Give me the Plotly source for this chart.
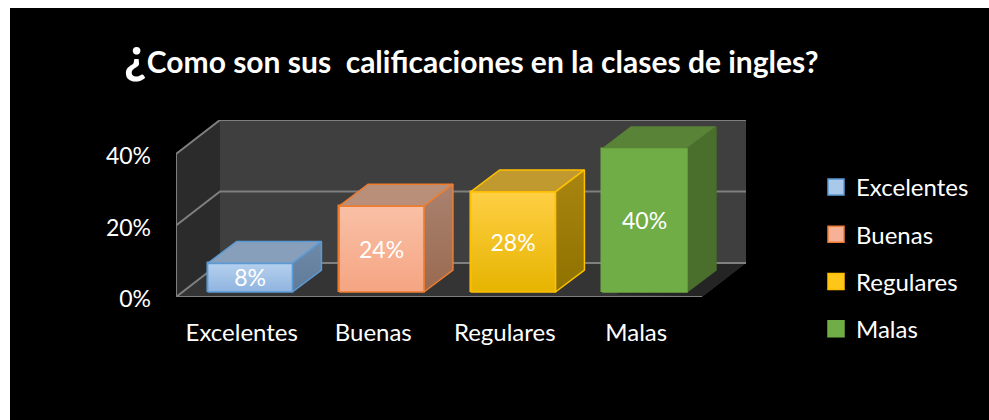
import plotly.graph_objects as go

categories = ["Excelentes", "Buenas", "Regulares", "Malas"]
values = [8, 24, 28, 40]
y_ticks = [0, 20, 40]

border_colors = ["#5b9bd5", "#ed7d31", "#ffc000", "#70ad47"]
front_top = ["#b5d0ee", "#f9c0a6", "#ffcf45", "#70ad47"]
front_bottom = ["#8fb4e0", "#f5a582", "#e6b400", "#70ad47"]
top_colors = ["#879fba", "#b98f79", "#c09a2e", "#598336"]
top_edges = ["#5b9bd5", "#ed7d31", "#ffc000", "#598336"]
side_top = ["#6f8aa8", "#a98270", "#a98510", "#4a6f2d"]
side_bottom = ["#5f7b99", "#9a6a50", "#8f7200", "#4a6f2d"]
side_edges = ["#5b9bd5", "#ed7d31", "#ffc000", "#4a6f2d"]
legend_colors = ["#a9c8ea", "#f6b196", "#ffc61a", "#70ad47"]

# the fake 3d is worked out in axis units: one category = 131.5px, 1% = 3.575px
WALL_DX, WALL_DY = 0.3346, 9.51
BAR_DX, BAR_DY = 0.2205, 6.15
BAR_SHIFT, BAR_W, BAR_BASE = 0.063, 0.645, 1.4
LABEL_DROP = 0.8
X0, X1 = -0.5, 3.5
LABEL_FONT = dict(family="Lato", color="white", size=24)
NUMBER_FONT = dict(family="Lato", color="white", size=23)

# plot area in page pixels
L, R, T, B = 176, 746, 120, 297


def page_x(px):
    return (px - L) / (R - L)


def page_y(px):
    return (B - px) / (B - T)


def poly(xs, ys):
    return "M" + " L".join(f"{x},{y}" for x, y in zip(xs, ys)) + " Z"


fig = go.Figure()

# black panel, the page stays white along the top and left edge
fig.add_shape(type="rect", xref="paper", yref="paper",
              x0=page_x(10), x1=page_x(989), y0=page_y(420), y1=page_y(8),
              fillcolor="black", line_width=0, layer="below")
shapes = [
    # back wall
    dict(path=poly([X0 + WALL_DX, X1 + WALL_DX, X1 + WALL_DX, X0 + WALL_DX],
                   [WALL_DY, WALL_DY, 40 + WALL_DY, 40 + WALL_DY]), fillcolor="#3f3f3f"),
    # left wall
    dict(path=poly([X0, X0 + WALL_DX, X0 + WALL_DX, X0],
                   [0, WALL_DY, 40 + WALL_DY, 40]), fillcolor="#2b2b2b"),
    # floor
    dict(path=poly([X0, X1, X1 + WALL_DX, X0 + WALL_DX],
                   [0, 0, WALL_DY, WALL_DY]), fillcolor="#343434"),
    # shadow next to the last bar
    dict(path=poly([2.85, X1, X1 + WALL_DX, 3.3],
                   [BAR_BASE - 0.6, 0.2, WALL_DY, WALL_DY]), fillcolor="#242424"),
]
for s in shapes:
    fig.add_shape(type="path", xref="x", yref="y", line_width=0, layer="below", **s)

# grid lines run along the left wall and the back wall
for v in y_ticks:
    fig.add_shape(type="path", xref="x", yref="y", layer="below",
                  path=f"M{X0},{v} L{X0 + WALL_DX},{v + WALL_DY} L{X1 + WALL_DX},{v + WALL_DY}",
                  line=dict(color="#7f7f7f", width=2))
fig.add_shape(type="line", xref="x", yref="y", x0=X0, x1=X0, y0=0, y1=40, layer="below",
              line=dict(color="#7f7f7f", width=2))
fig.add_shape(type="line", xref="x", yref="y", x0=X0, x1=X1, y0=0, y1=0, layer="below",
              line=dict(color="#7f7f7f", width=2))

positions = [i + BAR_SHIFT for i in range(len(categories))]

fig.add_trace(go.Bar(
    x=positions, y=values, base=BAR_BASE, width=BAR_W,
    marker=dict(color=front_bottom, line=dict(color=border_colors, width=1.5)),
    showlegend=False, hoverinfo="skip",
))

for i, v in enumerate(values):
    left = positions[i] - BAR_W / 2
    right = positions[i] + BAR_W / 2
    y0 = BAR_BASE
    y1 = BAR_BASE + v
    # top face
    fig.add_trace(go.Scatter(
        x=[left, right, right + BAR_DX, left + BAR_DX, left],
        y=[y1, y1, y1 + BAR_DY, y1 + BAR_DY, y1],
        mode="lines", fill="toself", fillcolor=top_colors[i],
        line=dict(color=top_edges[i], width=1.5),
        showlegend=False, hoverinfo="skip",
    ))
    # side face
    fig.add_trace(go.Scatter(
        x=[right, right + BAR_DX, right + BAR_DX, right, right],
        y=[y0, y0 + BAR_DY, y1 + BAR_DY, y1, y0],
        mode="lines", fill="toself", line=dict(color=side_edges[i], width=1.5),
        fillgradient=dict(type="vertical",
                          colorscale=[[0, side_bottom[i]], [1, side_top[i]]]),
        showlegend=False, hoverinfo="skip",
    ))
    # front face gradient, sits on the bar itself
    fig.add_trace(go.Scatter(
        x=[left, right, right, left, left],
        y=[y0, y0, y1, y1, y0],
        mode="lines", fill="toself", line=dict(color=border_colors[i], width=1.5),
        fillgradient=dict(type="vertical",
                          colorscale=[[0, front_bottom[i]], [1, front_top[i]]]),
        showlegend=False, hoverinfo="skip",
    ))

# data labels
fig.add_trace(go.Scatter(
    x=positions, y=[BAR_BASE + v / 2 - LABEL_DROP for v in values],
    mode="text", text=[f"{v}%" for v in values],
    textposition="middle center", textfont=NUMBER_FONT,
    showlegend=False, hoverinfo="skip",
))

# legend entries only
for i, name in enumerate(categories):
    fig.add_trace(go.Scatter(
        x=[None], y=[None], mode="markers", name=name, legendgroup=name,
        marker=dict(symbol="square", size=16, color=legend_colors[i],
                    line=dict(color=border_colors[i], width=1.5)),
    ))

fig.add_annotation(
    xref="paper", yref="paper", x=page_x(472), y=page_y(54), showarrow=False,
    text='<span style="font-size:50px">¿</span>Como son sus  calificaciones en la clases de ingles?',
    font=dict(family="Lato", color="white", size=30, weight="bold"),
    xanchor="center", yanchor="middle",
)

fig.update_layout(
    width=989, height=420, autosize=False,
    margin=dict(l=L, r=989 - R, t=T, b=420 - B, pad=0),
    paper_bgcolor="white", plot_bgcolor="black",
    bargap=0, barmode="overlay",
    xaxis=dict(range=[X0, X1 + WALL_DX], tickvals=list(range(len(categories))),
               ticktext=categories, showgrid=False, zeroline=False, showline=False,
               ticks="", tickfont=LABEL_FONT, ticklabelstandoff=19),
    yaxis=dict(range=[0, 40 + WALL_DY], tickvals=y_ticks, ticktext=[f"{t}%" for t in y_ticks],
               showgrid=False, zeroline=False, showline=False, ticks="",
               tickfont=NUMBER_FONT, ticklabelstandoff=24, ticklabelshift=2),
    legend=dict(x=page_x(816), y=page_y(165), xanchor="left", yanchor="top", font=LABEL_FONT,
                tracegroupgap=13, itemsizing="trace", bgcolor="rgba(0,0,0,0)", maxheight=240),
)

fig.write_html("out.html", config=dict(displayModeBar=False),
               post_script="document.body.style.margin='0';")
